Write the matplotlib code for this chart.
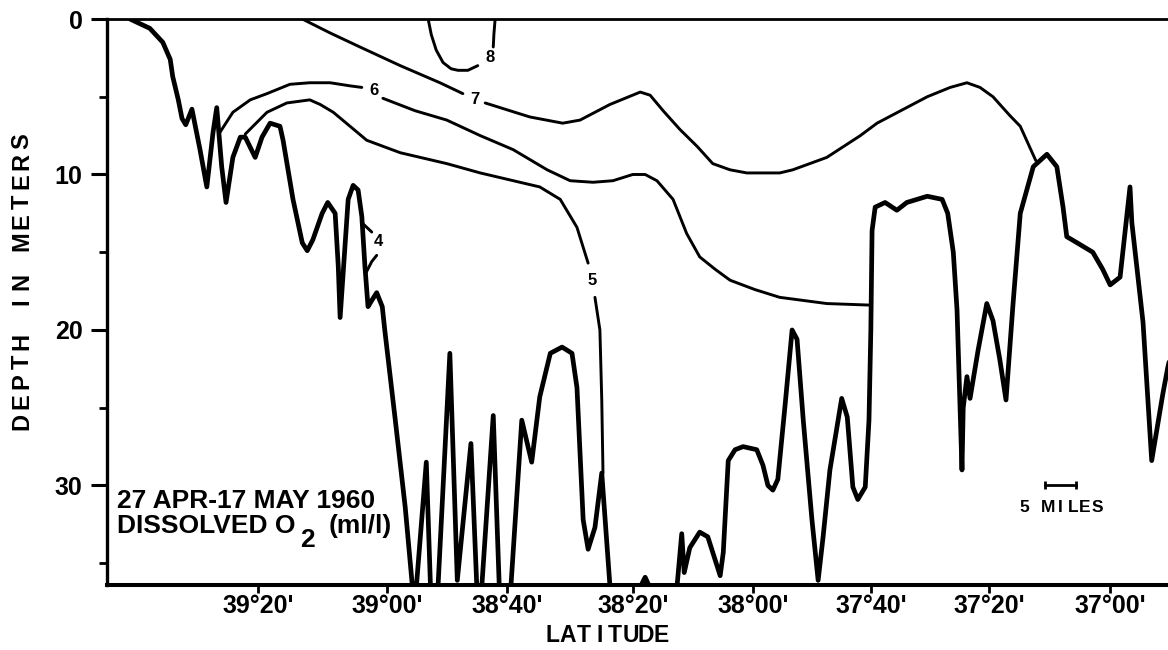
import numpy as np
import matplotlib
matplotlib.use('Agg')
import matplotlib.pyplot as plt

plt.rcParams['font.family'] = ['Liberation Sans', 'DejaVu Sans']
plt.rcParams['font.weight'] = 'bold'

nan = np.nan

# bottom profile along the channel: distance (miles) and depth (m)
bottom_dist = [3.7, 6.9, 9.0, 10.2, 10.6, 11.5, 12.1, 12.7, 13.7, 15.0,
               16.1, 17.1, 17.7, 18.5, 19.2, 20.3, 21.5, 22.3, 23.9, 25.0,
               26.3, 27.9, 28.4, 30.0, 31.5, 32.3, 33.2, 34.7, 35.6, 36.8,
               37.3, 37.6, 38.1, 38.9, 39.7, 40.5, 41.1, 41.6, 42.1, 42.7,
               43.5, 44.4, 44.8, 46.5, 48.1, 49.6, 51.5, 52.3, 53.2, 55.3,
               56.5, 58.7, 59.8, 60.2, 62.3, 63.4, 64.9, 66.9, 68.5, 69.8,
               71.5, 73.4, 75.0, 75.8, 76.8, 77.6, 78.7, 79.8, 81.4, 84.0,
               85.8, 86.8, 87.7, 88.5, 91.6, 92.7, 93.1, 94.0, 95.6, 96.9,
               97.7, 98.9, 99.4, 100.2, 101.3, 102.6, 104.8, 105.8, 106.6, 107.4,
               108.2, 109.4, 110.5, 111.3, 112.3, 113.7, 114.7, 115.5, 116.6, 118.5,
               119.4, 120.3, 121.1, 122.3, 122.9, 123.2, 123.4, 123.9, 125.5, 127.4,
               129.0, 132.3, 134.7, 135.6, 136.5, 137.1, 137.9, 138.1, 138.7, 139.2,
               140.5, 141.9, 142.9, 144.0, 145.0, 146.1, 147.3, 149.4, 151.6, 153.2,
               154.2, 154.8, 156.5, 159.0, 160.6, 161.8, 163.4, 165.0, 165.3, 167.1,
               168.5, 170.3, 171.1, 172.3]
bottom_depth = [0.0, 0.6, 1.5, 2.6, 3.7, 5.2, 6.4, 6.8, 5.8, 8.4,
                10.8, 7.3, 5.7, 9.5, 11.8, 8.9, 7.6, 7.6, 8.9, 7.6,
                6.7, 6.9, 7.8, 11.6, 14.4, 14.9, 14.2, 12.5, 11.8, 12.5,
                15.9, 19.2, 16.3, 11.6, 10.7, 11.0, 12.7, 15.9, 18.5, 18.1,
                17.6, 18.5, 20.0, 25.8, 31.4, 38.0, 28.5, 38.0, 38.0, 21.5,
                36.1, 27.3, 38.0, 38.0, 25.5, 38.0, 38.0, 25.8, 28.5, 24.3,
                21.5, 21.1, 21.5, 23.7, 32.2, 34.1, 32.7, 29.2, 38.0, 38.0,
                36.7, 35.9, 36.7, 38.0, 38.0, 33.1, 35.6, 34.0, 33.0, 33.3,
                34.3, 35.8, 34.3, 28.4, 27.7, 27.5, 27.7, 28.7, 30.0, 30.3,
                29.6, 24.7, 20.0, 20.6, 25.8, 32.2, 36.1, 33.3, 29.0, 24.4,
                25.6, 30.1, 30.9, 30.1, 25.8, 20.0, 13.6, 12.1, 11.8, 12.3,
                11.8, 11.4, 11.6, 12.5, 15.0, 18.7, 29.0, 25.0, 23.0, 24.4,
                21.3, 18.3, 19.4, 21.9, 24.5, 18.5, 12.5, 9.5, 8.7, 9.5,
                12.1, 14.0, 14.4, 15.0, 16.1, 17.1, 16.6, 10.8, 13.1, 19.5,
                28.4, 24.1, 22.4, 20.3]

# dissolved O2 isolines (ml/l); nan leaves the gap for the label
o2_8_dist = [51.8, 52.3, 53.1, 54.2, 55.5, 56.6, 58.2, 59.8, nan, 62.3, 62.4, 62.6]
o2_8_depth = [0.0, 1.0, 2.0, 2.8, 3.2, 3.3, 3.3, 3.0, nan, 1.8, 1.0, 0.0]

o2_7_dist = [31.5, 36.0, 40.8, 47.3, 53.7, 57.4, nan, 61.0, 68.2, 73.5, 76.3,
             81.1, 86.0, 87.6, 89.7, 92.4, 95.2, 97.7, 100.5, 103.2, 108.5,
             110.6, 116.1, 121.5, 124.2, 132.3, 136.0, 138.7, 140.8, 142.9,
             145.6, 147.3, 149.8]
o2_7_depth = [0.0, 0.9, 1.8, 3.0, 4.1, 4.8, nan, 5.4, 6.3, 6.7, 6.5,
              5.5, 4.7, 4.9, 5.9, 7.1, 8.2, 9.3, 9.7, 9.9, 9.9,
              9.7, 8.9, 7.5, 6.7, 5.0, 4.4, 4.1, 4.4, 5.0,
              6.2, 6.9, 9.1]

o2_6_dist = [18.2, 20.3, 23.1, 25.8, 29.5, 32.7, 36.0, 39.2, 41.1, nan,
             44.5, 49.7, 54.8, 60.2, 65.5, 71.0, 74.7, 78.4, 81.6, 84.8,
             86.8, 88.7, 91.3, 93.5, 95.6, 98.1, 100.5, 104.5, 108.5, 116.1, 123.1]
o2_6_depth = [7.3, 6.0, 5.2, 4.8, 4.2, 4.1, 4.1, 4.3, 4.4, nan,
              5.1, 5.9, 6.5, 7.5, 8.4, 9.7, 10.4, 10.5, 10.4, 10.0,
              10.0, 10.4, 11.6, 13.8, 15.3, 16.1, 16.8, 17.4, 17.9, 18.3, 18.4]

o2_5_dist = [22.3, 25.8, 29.0, 32.7, 34.4, 36.5, 39.2, 41.9, 47.3, 54.8,
             60.2, 66.6, 69.8, 73.1, 75.8, 77.6, nan, 78.7, 79.5, 79.8, 80.0]
o2_5_depth = [7.4, 6.0, 5.4, 5.2, 5.5, 6.0, 6.9, 7.8, 8.6, 9.3,
              9.9, 10.5, 10.8, 11.6, 13.4, 15.7, nan, 17.9, 20.0, 24.5, 29.2]

o2_4_dist = [41.1, 42.7, nan, 43.5, 42.7, 41.8]
o2_4_depth = [13.1, 13.7, nan, 15.2, 15.6, 16.3]

iso_labels = ['8', '7', '6', '5', '4']
iso_label_dist = [61.8, 59.4, 43.1, 78.2, 43.7]
iso_label_depth = [2.5, 5.2, 4.6, 16.8, 14.3]

lat_pos = [24.35, 45.2, 64.5, 84.8, 104.2, 123.2, 142.3, 161.8]
lat_labels = ["39°20'", "39°00'", "38°40'", "38°20'", "38°00'", "37°40'", "37°20'", "37°00'"]

depth_major = [0, 10, 20, 30]
depth_minor = [5, 15, 25, 35]

scale_miles = 5

W, H = 1168, 650
fig = plt.figure(figsize=(W / 100, H / 100), dpi=100)
ax = fig.add_axes([107 / W, 1 - 585 / H, 1 - 107 / W, (585 - 19) / H])
ax.set_xlim(0, 1061 / 6.2)
ax.set_ylim(36.4, 0)

ax.plot(bottom_dist, bottom_depth, color='black', lw=3.4,
        solid_joinstyle='round', solid_capstyle='round')

isolines = [(o2_8_dist, o2_8_depth), (o2_7_dist, o2_7_depth), (o2_6_dist, o2_6_depth),
            (o2_5_dist, o2_5_depth), (o2_4_dist, o2_4_depth)]
for xs, zs in isolines:
    ax.plot(xs, zs, color='black', lw=2.1, solid_joinstyle='round', solid_capstyle='round')

for lab, x, z in zip(iso_labels, iso_label_dist, iso_label_depth):
    ax.text(x, z, lab, fontsize=12, ha='center', va='center')

# axes frame: no right edge, heavy bottom line
ax.spines['right'].set_visible(False)
ax.spines['top'].set_linewidth(2.0)
ax.spines['left'].set_linewidth(2.4)
ax.spines['bottom'].set_linewidth(2.9)

ax.set_yticks(depth_major)
ax.set_yticks(depth_minor, minor=True)
ax.set_yticklabels([str(d) for d in depth_major])
ax.tick_params(axis='y', which='major', length=11.5, width=2.2, pad=6, labelsize=18)
ax.tick_params(axis='y', which='minor', length=6, width=2.0)
ax.set_xticks(lat_pos, lat_labels)
ax.tick_params(axis='x', length=6, width=2.0, pad=0.5, labelsize=18)

# scale bar
bar_x0 = 151.3
ax.plot([bar_x0, bar_x0 + scale_miles], [30.0, 30.0], color='black', lw=2,
        marker='|', markersize=6, markeredgewidth=2)

# station / variable note
note_size = 19
ax.text(1.6, 31.45, "27 APR-17 MAY 1960", fontsize=note_size, ha='left', va='baseline')
t1 = ax.text(1.6, 33.05, "DISSOLVED O", fontsize=note_size, ha='left', va='baseline')
renderer = fig.canvas.get_renderer()
bb1 = t1.get_window_extent(renderer)
t2 = ax.annotate("2", xy=(bb1.x1 + 5, 33.95), xycoords=('figure pixels', 'data'),
                 fontsize=note_size, ha='left', va='baseline')
bb2 = t2.get_window_extent(renderer)
ax.annotate("(ml/l)", xy=(bb2.x1 + 14, 33.05), xycoords=('figure pixels', 'data'),
            fontsize=note_size, ha='left', va='baseline')


def lettered(cx, cy, text, pitch, size, rotation=0):
    # evenly pitched stencil-style lettering, centred on (cx, cy) in pixels
    n = len(text)
    for i, ch in enumerate(text):
        off = (i - (n - 1) / 2) * pitch
        if rotation == 90:
            x, y = cx, cy + off
        else:
            x, y = cx + off, cy
        fig.text(x / W, y / H, ch, fontsize=size, rotation=rotation,
                 ha='center', va='center')


lettered(22, H - 281.5, "DEPTH IN METERS", 20.0, 17, rotation=90)
lettered(607, H - 636, "LATITUDE", 15.6, 16.5)
sx, sy = ax.transData.transform((bar_x0 + scale_miles / 2, 31.4))
lettered(sx, sy, "5 MILES", 12.2, 12.5)

fig.savefig('out.png', dpi=100)
